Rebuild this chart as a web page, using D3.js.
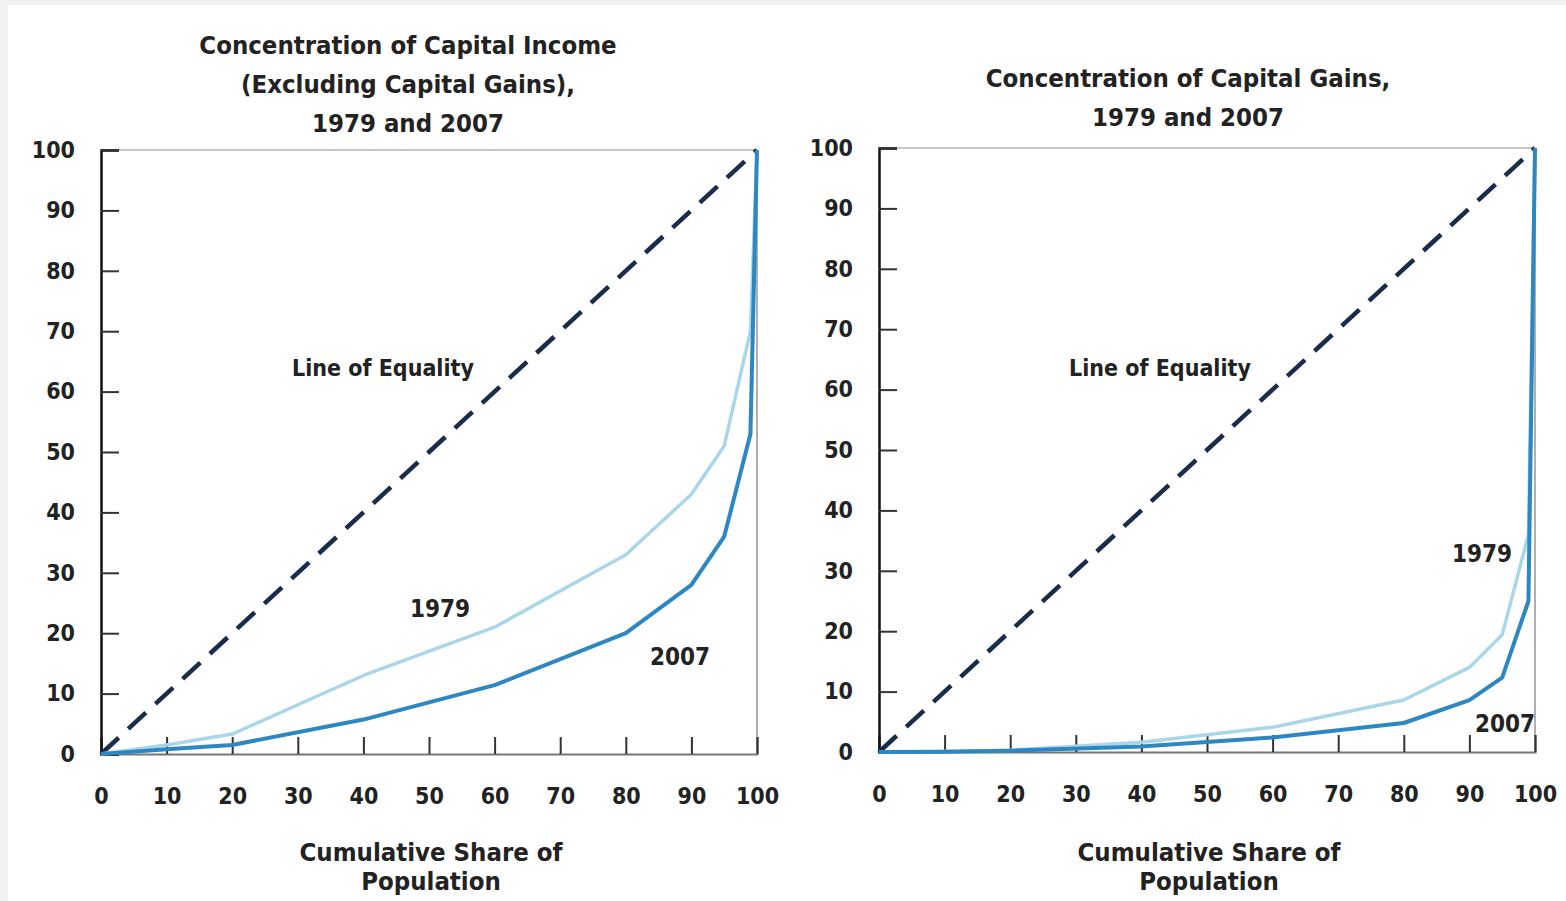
<!DOCTYPE html>
<html>
<head>
<meta charset="utf-8">
<script src="https://cdn.jsdelivr.net/npm/d3@7"></script>
<style>
  body { margin: 0; background: #f1f1f1; }
  svg { display: block; }
  text { font-family: "DejaVu Sans Condensed", "Liberation Sans Narrow", sans-serif; font-weight: bold; fill: #222; }
</style>
</head>
<body>
<div id="chart"></div>
<script>
const width = 1566,
    height = 901;

// shared x positions (cumulative share of population)
const popShare = [0, 10, 20, 40, 60, 80, 90, 95, 99, 100];
const ticks = [0, 10, 20, 30, 40, 50, 60, 70, 80, 90, 100];

// capital income (excluding capital gains)
const income1979 = [0, 1.5, 3.3, 13, 21, 33, 43, 51, 70, 100];
const income2007 = [0, 0.8, 1.5, 5.7, 11.4, 20, 28, 36, 53, 100];

// capital gains
const gains1979 = [0, 0.1, 0.3, 1.6, 4.1, 8.6, 14, 19.4, 36, 100];
const gains2007 = [0, 0.05, 0.2, 0.9, 2.4, 4.8, 8.6, 12.3, 25, 100];

const panels = [
    {
        title: ['Concentration of Capital Income', '(Excluding Capital Gains),', '1979 and 2007'],
        titleX: 408, titleY: 45,
        left: 101, right: 757, top: 150, bottom: 754,
        s1979: income1979, s2007: income2007,
        equality: [383, 368], lab1979: [440, 608], lab2007: [680, 656]
    },
    {
        title: ['Concentration of Capital Gains,', '1979 and 2007'],
        titleX: 1188, titleY: 78,
        left: 879, right: 1535, top: 148, bottom: 752,
        s1979: gains1979, s2007: gains2007,
        equality: [1160, 368], lab1979: [1482, 553], lab2007: [1505, 723]
    }
];

const svg = d3.select('#chart').append('svg').attr('width', width).attr('height', height);

svg.append('rect').attr('x', 8).attr('y', 5).attr('width', width - 8).attr('height', height - 5).attr('fill', '#fff');

panels.forEach((p) => {
    const x = d3.scaleLinear().domain([0, 100]).range([p.left, p.right]);
    const y = d3.scaleLinear().domain([0, 100]).range([p.bottom, p.top]);
    const g = svg.append('g');

    // title
    g.append('text')
        .attr('text-anchor', 'middle')
        .style('font-size', '25.5px')
        .selectAll('tspan')
        .data(p.title)
        .enter()
        .append('tspan')
        .attr('x', p.titleX)
        .attr('y', (d, i) => p.titleY + 9 + i * 39)
        .text((d) => d);

    // frame
    g.append('line').attr('x1', p.left).attr('x2', p.right).attr('y1', p.top).attr('y2', p.top)
        .attr('stroke', '#c8c8c8').attr('stroke-width', 2);
    g.append('line').attr('x1', p.right).attr('x2', p.right).attr('y1', p.top).attr('y2', p.bottom)
        .attr('stroke', '#b0b0b0').attr('stroke-width', 2);

    // axes
    const xAxis = g.append('g').attr('transform', `translate(0,${p.bottom})`)
        .call(d3.axisBottom(x).tickValues(ticks).tickSize(-17).tickPadding(34));
    xAxis.select('.domain').attr('stroke', '#777').attr('stroke-width', 2);
    xAxis.selectAll('.tick line').attr('stroke', '#333').attr('stroke-width', 2);
    xAxis.selectAll('text').style('font-size', '23px').attr('fill', '#222');

    const yAxis = g.append('g').attr('transform', `translate(${p.left},0)`)
        .call(d3.axisLeft(y).tickValues(ticks).tickSize(-18).tickPadding(26));
    yAxis.select('.domain').attr('stroke', '#111').attr('stroke-width', 2.5);
    yAxis.selectAll('.tick line').attr('stroke', '#333').attr('stroke-width', 2);
    yAxis.selectAll('text').style('font-size', '23px').attr('fill', '#222');

    // line of equality
    g.append('path')
        .datum([0, 100])
        .attr('d', d3.line().x((d) => x(d)).y((d) => y(d)))
        .attr('fill', 'none')
        .attr('stroke', '#1b2b4b')
        .attr('stroke-width', 4.5)
        .attr('stroke-dasharray', '24,13');

    const line = (vals) => d3.line().x((d, i) => x(popShare[i])).y((d) => y(d))(vals);

    g.append('path').attr('d', line(p.s1979))
        .attr('fill', 'none').attr('stroke', '#abd6ea').attr('stroke-width', 3.5).attr('stroke-linejoin', 'round');
    g.append('path').attr('d', line(p.s2007))
        .attr('fill', 'none').attr('stroke', '#2c87c2').attr('stroke-width', 4).attr('stroke-linejoin', 'round');

    // labels
    g.append('text').attr('x', p.equality[0]).attr('y', p.equality[1] + 8)
        .attr('text-anchor', 'middle').style('font-size', '23px').text('Line of Equality');
    g.append('text').attr('x', p.lab1979[0]).attr('y', p.lab1979[1] + 9)
        .attr('text-anchor', 'middle').style('font-size', '24px').text('1979');
    g.append('text').attr('x', p.lab2007[0]).attr('y', p.lab2007[1] + 9)
        .attr('text-anchor', 'middle').style('font-size', '24px').text('2007');

    // x axis title
    const cx = (p.left + p.right) / 2 + 2;
    g.append('text').attr('text-anchor', 'middle').style('font-size', '25.5px')
        .selectAll('tspan')
        .data(['Cumulative Share of', 'Population'])
        .enter()
        .append('tspan')
        .attr('x', cx)
        .attr('y', (d, i) => 861 + i * 29)
        .text((d) => d);
});
</script>
</body>
</html>
